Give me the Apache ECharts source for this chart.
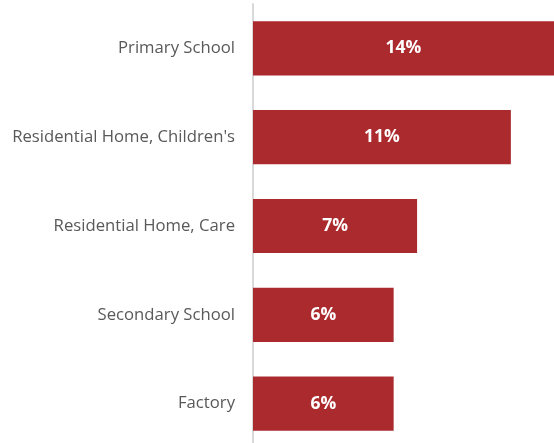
<!DOCTYPE html>
<html>
<head>
<meta charset="utf-8">
<script src="https://cdn.jsdelivr.net/npm/echarts@6/dist/echarts.min.js"></script>
<style>
html, body { margin: 0; padding: 0; background: #fff; }
#main { width: 554px; height: 443px; }
</style>
</head>
<body>
<div id="main"></div>
<script>
var categories = ['Primary School', "Residential Home, Children's", 'Residential Home, Care', 'Secondary School', 'Factory']
var values = [14, 11, 7, 6, 6]

var myChart = echarts.init(document.getElementById('main'));

var option = {
    animation: false,
    grid: {
        left: 253,
        right: 0,
        top: 4,
        bottom: -5,
        outerBoundsMode: 'none'
    },
    xAxis: {
        type: 'value',
        min: 0,
        max: 12.84,
        show: false
    },
    yAxis: {
        type: 'category',
        inverse: true,
        data: categories,
        axisLine: { lineStyle: { color: '#d9d9d9', width: 2 } },
        axisTick: { show: false },
        axisLabel: {
            color: '#595959',
            fontFamily: 'Open Sans',
            fontSize: 16.7,
            margin: 18
        }
    },
    series: [{
        type: 'bar',
        data: values,
        clip: true,
        barCategoryGap: '39%',
        itemStyle: { color: '#ab2a2d' },
        label: {
            show: true,
            position: 'inside',
            color: '#fff',
            fontFamily: 'Open Sans',
            fontWeight: 'bold',
            fontSize: 17.5,
            formatter: '{c}%'
        }
    }]
};
myChart.setOption(option);
</script>
</body>
</html>
